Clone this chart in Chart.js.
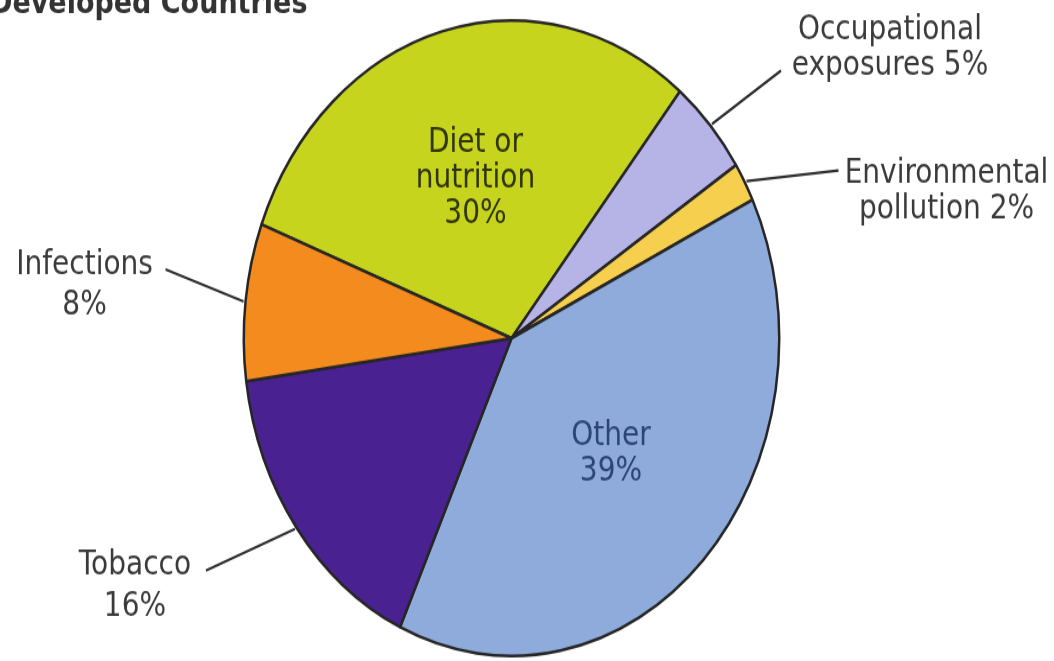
<!DOCTYPE html>
<html>
<head>
<meta charset="utf-8">
<script src="https://cdn.jsdelivr.net/npm/chart.js@4.4.1/dist/chart.umd.min.js"></script>
<style>
  html, body { margin: 0; padding: 0; background: #fff; }
  #page { width: 1054px; height: 661px; overflow: hidden; }
  /* the pie is printed taller than wide, so the whole drawing is stretched vertically */
  #pie-wrap { width: 1054px; height: 557px; transform: scaleY(1.1867); transform-origin: 0 0; }
</style>
</head>
<body>
<div id="page"><div id="pie-wrap"><canvas id="cause-pie" width="1054" height="557"></canvas></div></div>
<script>
const title = 'Developed Countries';
const categories = ['Diet or nutrition', 'Occupational exposures', 'Environmental pollution', 'Other', 'Tobacco', 'Infections'];
const shares = [30, 5, 2, 39, 16, 8];
// how each category name is wrapped, and whether the percent gets a row of its own
const nameRows = [['Diet or', 'nutrition'], ['Occupational', 'exposures'], ['Environmental', 'pollution'], ['Other'], ['Tobacco'], ['Infections']];
const pctOwnRow = [true, false, false, true, true, true];
const colors = ['#c6d41e', '#b6b4e6', '#f6cf4e', '#8eabdc', '#4a2190', '#f38b1f'];

// label placement: inside labels sit in the slice, outside ones hang off a leader line
// lead = leader line vector from the slice edge, text = offset of first row centre from the line end
const labelStyle = [
  { inside: true, color: '#30340a', rowGap: 30 },
  { lead: [69, -45], text: [109, -34], rowGap: 30 },
  { lead: [92, -9], text: [108, 3], rowGap: 30 },
  { inside: true, color: '#2c4576', rowGap: 30 },
  { lead: [-89, 35], text: [-71, -4], rowGap: 35 },
  { lead: [-78, -27], text: [-81, -3], rowGap: 34 }
];

const rowsFor = i => {
  const rows = nameRows[i].slice();
  if (pctOwnRow[i]) rows.push(shares[i] + '%');
  else rows[rows.length - 1] += ' ' + shares[i] + '%';
  return rows;
};

const pieLabels = {
  id: 'pieLabels',
  afterDatasetsDraw(chart) {
    const ctx = chart.ctx;
    const arcs = chart.getDatasetMeta(0).data;
    ctx.save();
    ctx.textAlign = 'center';
    ctx.textBaseline = 'middle';
    ctx.font = '28px "DejaVu Sans"';

    arcs.forEach((arc, i) => {
      const st = labelStyle[i];
      const rows = rowsFor(i);
      const { x, y, startAngle, endAngle, outerRadius } = arc.getProps(['x', 'y', 'startAngle', 'endAngle', 'outerRadius'], true);
      const mid = (startAngle + endAngle) / 2;
      let tx, ty;
      if (st.inside) {
        const r = outerRadius * 0.52;
        tx = x + Math.cos(mid) * r;
        ty = y + Math.sin(mid) * r - (rows.length - 1) * st.rowGap / 2;
        ctx.fillStyle = st.color;
      } else {
        const sx = x + Math.cos(mid) * (outerRadius + 2);
        const sy = y + Math.sin(mid) * (outerRadius + 2);
        const ex = sx + st.lead[0];
        const ey = sy + st.lead[1];
        ctx.strokeStyle = '#2e2e2e';
        ctx.lineWidth = 2.2;
        ctx.beginPath();
        ctx.moveTo(sx, sy);
        ctx.lineTo(ex, ey);
        ctx.stroke();
        tx = ex + st.text[0];
        ty = ey + st.text[1];
        ctx.fillStyle = '#3a3a3a';
      }
      rows.forEach((row, k) => ctx.fillText(row, tx, ty + k * st.rowGap));
    });

    // heading, partly running off the top edge
    ctx.textAlign = 'left';
    ctx.textBaseline = 'alphabetic';
    ctx.font = 'bold 27px "DejaVu Sans"';
    ctx.fillStyle = '#333';
    ctx.fillText(title, -10, 11);
    ctx.restore();
  }
};

new Chart(document.getElementById('cause-pie'), {
  type: 'pie',
  data: {
    labels: categories,
    datasets: [{
      data: shares,
      backgroundColor: colors,
      borderColor: '#262626',
      borderWidth: 2.5,
      hoverOffset: 0
    }]
  },
  options: {
    responsive: false,
    devicePixelRatio: 1,
    animation: false,
    rotation: -69,
    layout: { padding: { left: 0, right: 31, top: 16, bottom: 3 } },
    plugins: {
      legend: { display: false },
      tooltip: { enabled: false }
    }
  },
  plugins: [pieLabels]
});
</script>
</body>
</html>
